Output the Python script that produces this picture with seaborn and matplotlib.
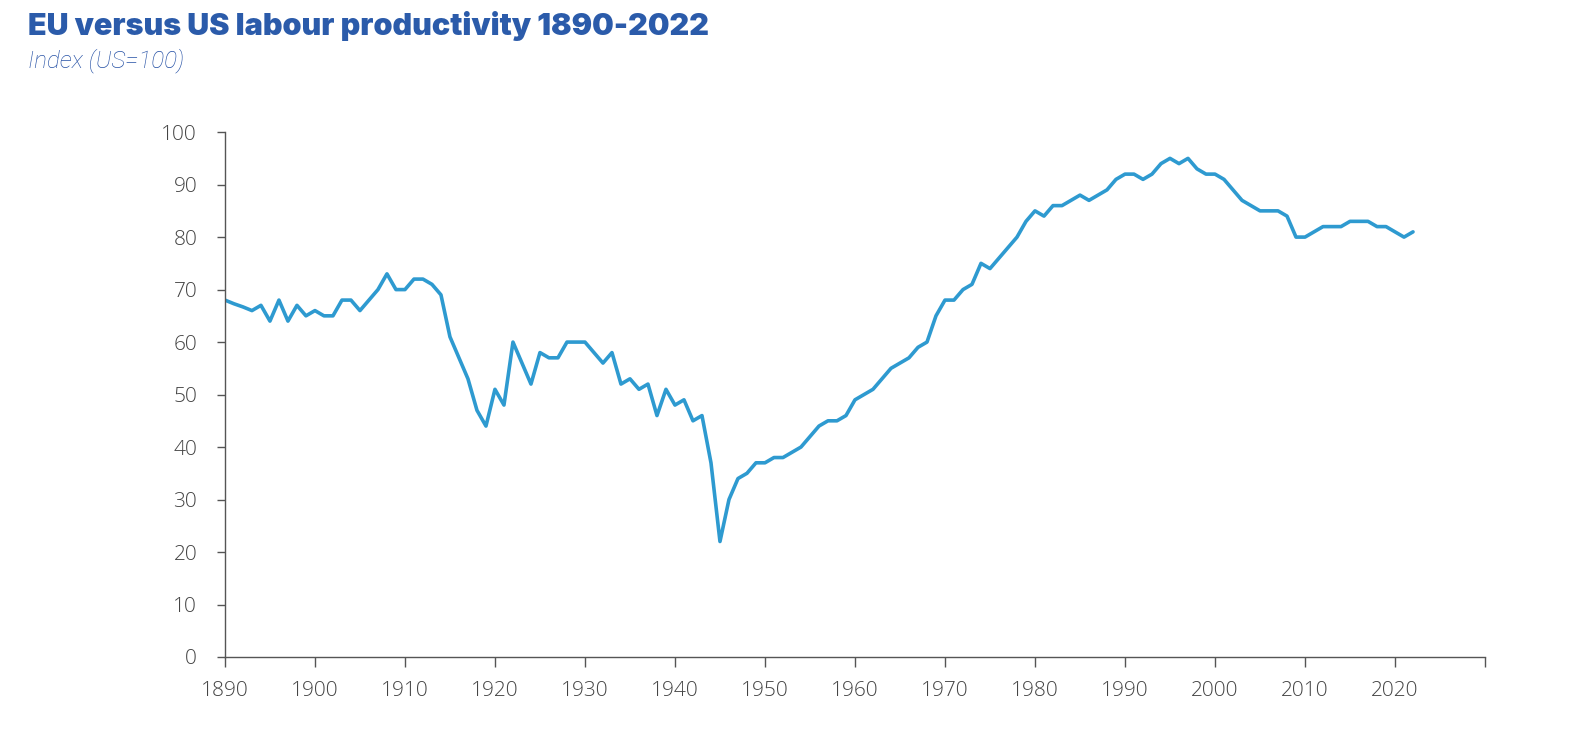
import matplotlib
matplotlib.use("Agg")
import matplotlib.pyplot as plt
import seaborn as sns
import pandas as pd
import numpy as np

years = list(range(1890, 2023))
eu_index = [
    68, 67.3, 66.7, 66, 67, 64, 68, 64, 67, 65,      # 1890-1899
    66, 65, 65, 68, 68, 66, 68, 70, 73, 70,          # 1900-1909
    70, 72, 72, 71, 69, 61, 57, 53, 47, 44,          # 1910-1919
    51, 48, 60, 56, 52, 58, 57, 57, 60, 60,          # 1920-1929
    60, 58, 56, 58, 52, 53, 51, 52, 46, 51,          # 1930-1939
    48, 49, 45, 46, 37, 22, 30, 34, 35, 37,          # 1940-1949
    37, 38, 38, 39, 40, 42, 44, 45, 45, 46,          # 1950-1959
    49, 50, 51, 53, 55, 56, 57, 59, 60, 65,          # 1960-1969
    68, 68, 70, 71, 75, 74, 76, 78, 80, 83,          # 1970-1979
    85, 84, 86, 86, 87, 88, 87, 88, 89, 91,          # 1980-1989
    92, 92, 91, 92, 94, 95, 94, 95, 93, 92,          # 1990-1999
    92, 91, 89, 87, 86, 85, 85, 85, 84, 80,          # 2000-2009
    80, 81, 82, 82, 82, 83, 83, 83, 82, 82,          # 2010-2019
    81, 80, 81,                                      # 2020-2022
]
x_ticks = list(range(1890, 2031, 10))
x_labels = [str(y) if y <= 2020 else "" for y in x_ticks]
y_ticks = list(range(0, 101, 10))

title = "EU versus US labour productivity 1890-2022"
subtitle = "Index (US=100)"

df = pd.DataFrame({"year": years, "index": eu_index})

sns.set_style("white")
plt.rcParams["font.family"] = ["Open Sans", "DejaVu Sans"]

fig = plt.figure(figsize=(15.92, 7.30), dpi=100)
ax = fig.add_axes([0.1413, 0.1, 0.7915, 0.719])

sns.lineplot(data=df, x="year", y="index", ax=ax, color="#2E9AD0", linewidth=2.6)

ax.set_xlim(1890, 2030)
ax.set_ylim(0, 100)
ax.set_xticks(x_ticks)
ax.set_xticklabels(x_labels)
ax.set_yticks(y_ticks)
ax.set_xlabel("")
ax.set_ylabel("")

for s in ["top", "right"]:
    ax.spines[s].set_visible(False)
for s in ["left", "bottom"]:
    ax.spines[s].set_color("#555555")
    ax.spines[s].set_linewidth(1.0)

ax.tick_params(axis="x", direction="out", length=7, width=1, color="#555555",
               pad=10, labelsize=15, labelcolor="#444444", bottom=True)
ax.tick_params(axis="y", direction="out", length=6, width=1, color="#555555",
               pad=14, labelsize=15, labelcolor="#444444", left=True)
for lbl in ax.get_xticklabels() + ax.get_yticklabels():
    lbl.set_fontweight("light")
ax.grid(False)

fig.text(28 / 1592, 1 - 26 / 730, title, fontsize=22, fontweight=900,
         color="#2B5BAA", family=["Inter", "DejaVu Sans"], va="center", ha="left")
fig.text(28 / 1592, 1 - 61 / 730, subtitle, fontsize=17.5, fontstyle="italic",
         fontweight="light", color="#2752A6", family=["Roboto", "DejaVu Sans"],
         va="center", ha="left")

fig.savefig("out.png", dpi=100)
